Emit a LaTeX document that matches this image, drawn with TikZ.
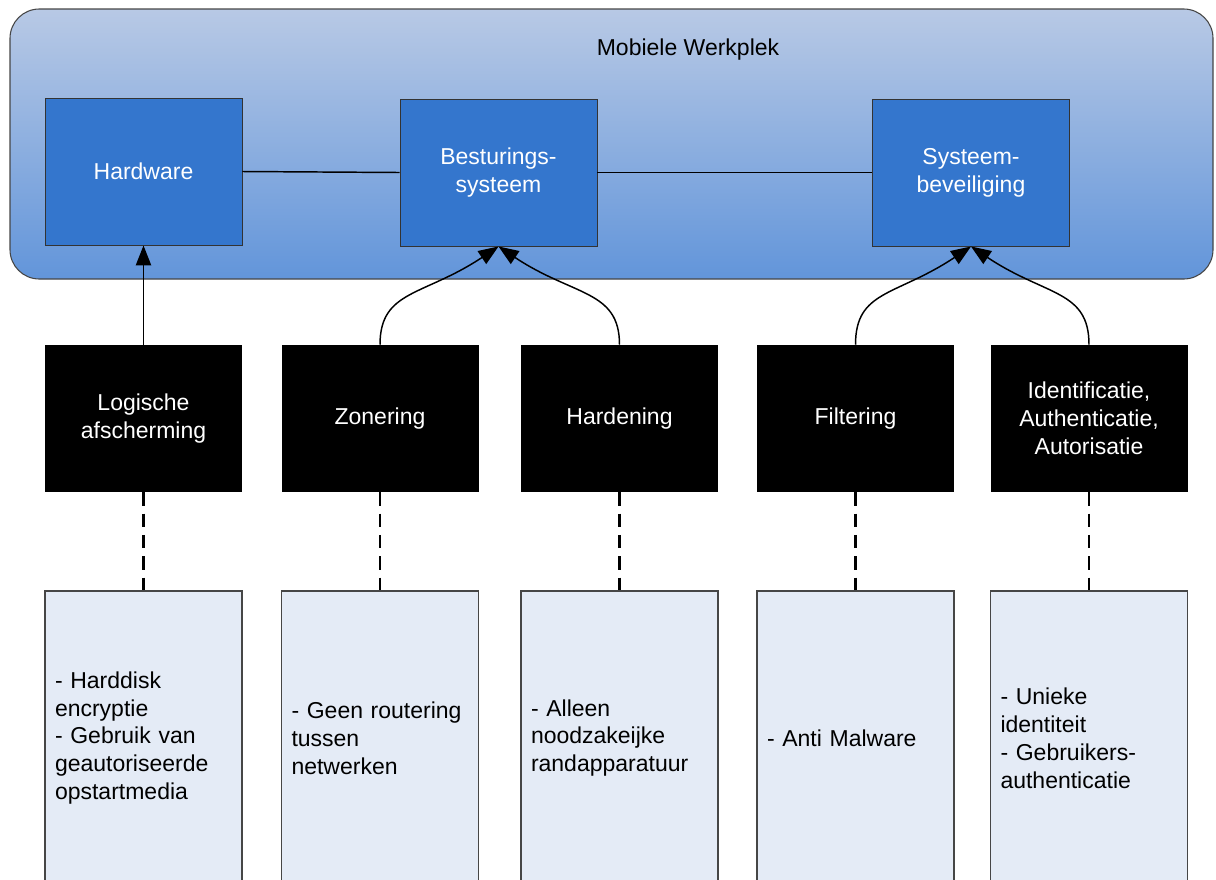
\documentclass[tikz,border=0pt]{standalone}
\usepackage{fontspec}
\setmainfont{Liberation Sans}
\usetikzlibrary{arrows.meta}
\definecolor{paneltop}{RGB}{184,201,229}
\definecolor{panelbot}{RGB}{98,149,218}
\definecolor{layerblue}{RGB}{52,118,205}
\definecolor{notefill}{RGB}{228,235,246}
\definecolor{edgegray}{RGB}{70,70,70}
\begin{document}
\begin{tikzpicture}[x=0.75pt,y=-0.75pt,
  lbl/.style={font=\fontsize{17.25pt}{20.9pt}\selectfont},
  panel/.style={draw=edgegray, line width=0.8pt, rounded corners=22pt,
    top color=paneltop, bottom color=panelbot,
    minimum width=1203*0.75pt, minimum height=270*0.75pt, inner sep=0pt},
  layer/.style={lbl, draw=black!80, line width=0.7pt, fill=layerblue, text=white,
    minimum width=197*0.75pt, minimum height=147*0.75pt, inner sep=0pt, align=center},
  measure/.style={lbl, fill=black, text=white,
    minimum width=197*0.75pt, minimum height=147*0.75pt, inner sep=0pt, align=center},
  detail/.style={lbl, draw=edgegray, line width=0.8pt, fill=notefill,
    text width=177*0.75pt, inner xsep=10*0.75pt, inner ysep=0pt,
    minimum height=294*0.75pt, align=left},
  link/.style={line width=1.1pt},
  lift/.style={line width=1.1pt, -{Triangle[length=15pt,width=11.5pt]}},
  tie/.style={line width=2.2pt, dash pattern=on 10pt off 6pt},
]
\useasboundingbox (0,0) rectangle (1216,879);

% workplace panel
\node[panel] (wp) at (611.5,144) {};
\node[lbl] (title) at (688,50) {Mobiele Werkplek};

% workplace layers
\node[layer] (hw) at (143.5,171.5) {Hardware};
\node[layer] (os) at (498.5,172.5) {Besturings-\\systeem};
\node[layer] (sec) at (971,172.5) {Systeem-\\beveiliging};

% measures
\node[measure] (m1) at (143.5,418.5) {Logische\\afscherming};
\node[measure] (m2) at (380,418.5) {Zonering};
\node[measure] (m3) at (619.5,418.5) {Hardening};
\node[measure] (m4) at (855.5,418.5) {Filtering};
\node[measure] (m5) at (1089,418.5) {Identificatie,\\Authenticatie,\\Autorisatie};

% details per measure
\node[detail] (d1) at (143.5,738) {- Harddisk\\encryptie\\- Gebruik van\\geautoriseerde\\opstartmedia};
\node[detail] (d2) at (380,738) {- Geen routering\\tussen\\netwerken};
\node[detail] (d3) at (619.5,738) {- Alleen\\noodzakeijke\\randapparatuur};
\node[detail] (d4) at (855.5,738) {- Anti Malware};
\node[detail] (d5) at (1089,738) {- Unieke\\identiteit\\- Gebruikers-\\authenticatie};

% layer chain
\draw[link] (hw.east) -- (os.west);
\draw[link] (os.east) -- (sec.west);

% measures supporting layers
\draw[lift] (m1.north) -- (hw.south);
\draw[lift] (m2.north) .. controls +(0,-55) and +(-75,50) .. (os.south);
\draw[lift] (m3.north) .. controls +(0,-55) and +(75,50) .. (os.south);
\draw[lift] (m4.north) .. controls +(0,-55) and +(-75,50) .. (sec.south);
\draw[lift] (m5.north) .. controls +(0,-55) and +(75,50) .. (sec.south);

% dashed ties to details
\foreach \i in {1,...,5} {
  \draw[tie] (m\i.south) -- (d\i.north);
}
\end{tikzpicture}
\end{document}
